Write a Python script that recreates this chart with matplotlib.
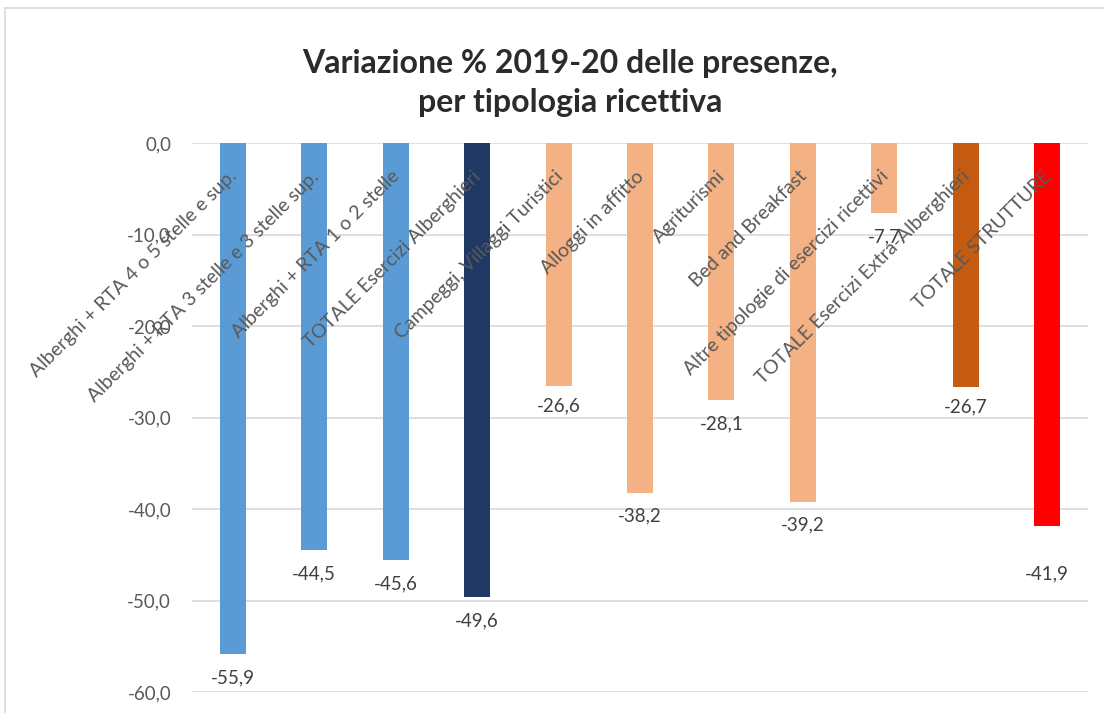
import numpy as np
import matplotlib
matplotlib.use("Agg")
import matplotlib.pyplot as plt
from matplotlib.lines import Line2D

# ---- data ----
categories = [
    "Alberghi + RTA 4 o 5 stelle e sup.",
    "Alberghi + RTA 3 stelle e 3 stelle sup.",
    "Alberghi + RTA 1 o 2 stelle",
    "TOTALE Esercizi Alberghieri",
    "Campeggi, Villaggi Turistici",
    "Alloggi in affitto",
    "Agriturismi",
    "Bed and Breakfast",
    "Altre tipologie di esercizi ricettivi",
    "TOTALE Esercizi Extra-Alberghieri",
    "TOTALE STRUTTURE",
]
values = [-55.9, -44.5, -45.6, -49.6, -26.6, -38.2, -28.1, -39.2, -7.7, -26.7, -41.9]
yticks = [0, -10, -20, -30, -40, -50, -60]
title = "Variazione % 2019-20 delle presenze,\nper tipologia ricettiva"

# ---- styles ----
colors = ["#5B9BD5", "#5B9BD5", "#5B9BD5", "#203864",
          "#F4B183", "#F4B183", "#F4B183", "#F4B183", "#F4B183",
          "#C55A11", "#FF0000"]
label_offsets_pt = [-17, -17, -17, -17, -14, -17, -17, -17, -17, -14, -34]

plt.rcParams['font.family'] = ['Lato', 'DejaVu Sans']

fig = plt.figure(figsize=(11.04, 7.13), dpi=100)
W, H = 1104, 713
ax = fig.add_axes([192 / W, 21 / H, 896 / W, 549 / H])

x = np.arange(len(categories))
bars = ax.bar(x, values, width=0.32, color=colors, zorder=3)

ax.set_xlim(-0.5, len(categories) - 0.5)
ax.set_ylim(-60, 0)
ax.set_yticks(yticks)
ax.set_yticklabels([f"{v:.1f}".replace(".", ",") for v in yticks],
                   fontsize=13.5, color="#595959")
ax.tick_params(axis="y", length=0, pad=15)
ax.set_xticks([])
ax.yaxis.grid(True, color="#D9D9D9", linewidth=1.2, zorder=0)
for s in ax.spines.values():
    s.set_visible(False)

# category labels (axis at 0, rotated)
for i, cat in enumerate(categories):
    ax.annotate(cat, xy=(i, 0), xycoords="data", xytext=(1, -22),
                textcoords="offset points", rotation=45,
                rotation_mode="anchor", ha="right", va="center",
                fontsize=14, color="#595959", annotation_clip=False, zorder=5)

# value labels
for i, v in enumerate(values):
    ax.annotate(f"{v:.1f}".replace(".", ","), xy=(i, v), xycoords="data",
                xytext=(0, label_offsets_pt[i]), textcoords="offset points",
                ha="center", va="center", fontsize=13.5, color="#404040",
                annotation_clip=False, zorder=5)

fig.text(570 / W, 1 - 83 / H, title, ha="center", va="center",
         fontsize=23, fontweight="bold", color="#2B2B2B", linespacing=1.42)

# chart-area border (left and top visible)
fig.add_artist(Line2D([5 / W, 5 / W], [0, 1 - 8 / H], transform=fig.transFigure,
                      color="#D9D9D9", linewidth=1.2))
fig.add_artist(Line2D([5 / W, 1], [1 - 8 / H, 1 - 8 / H], transform=fig.transFigure,
                      color="#D9D9D9", linewidth=1.2))

fig.savefig("out.png", dpi=100)
